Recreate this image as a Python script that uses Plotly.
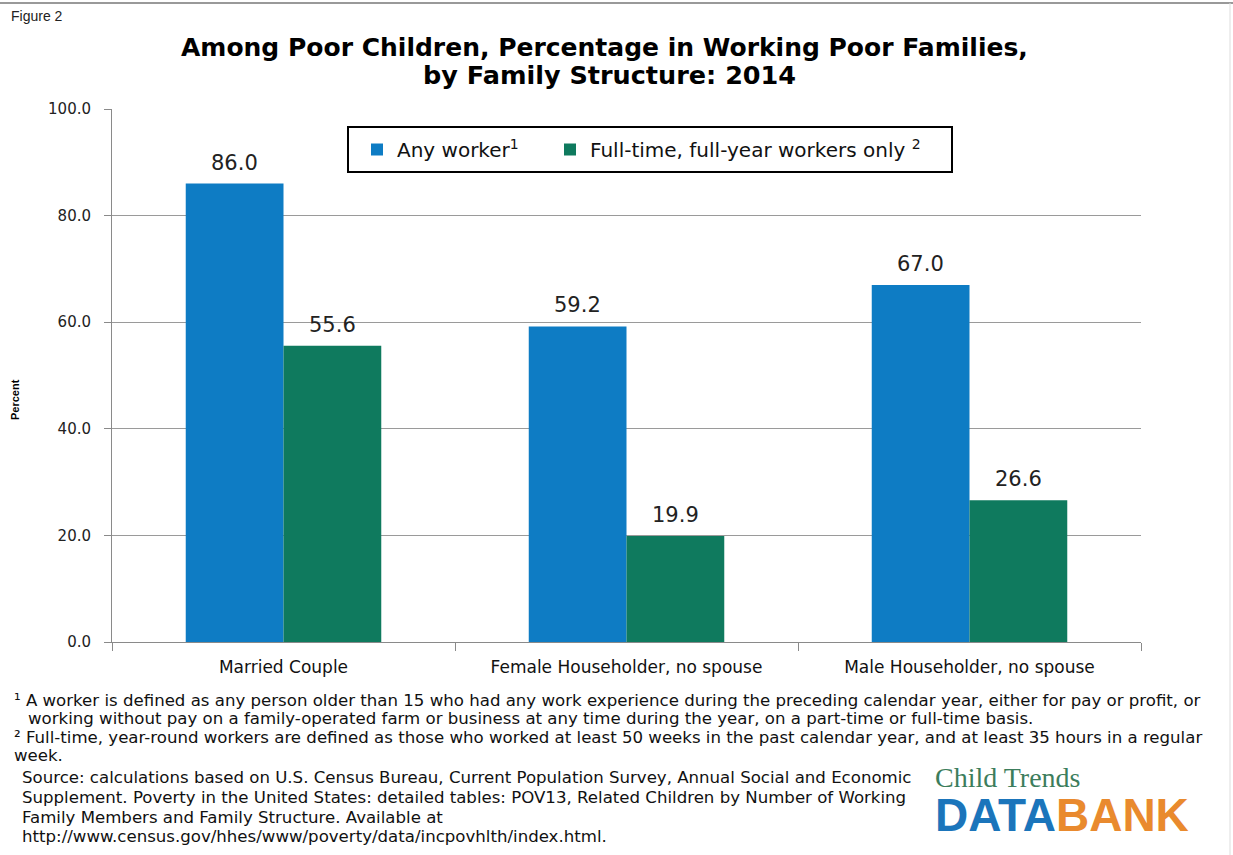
import plotly.graph_objects as go

# Categories and series values (percent of poor children)
categories = ["Married Couple", "Female Householder, no spouse", "Male Householder, no spouse"]
any_worker = [86.0, 59.2, 67.0]
full_time = [55.6, 19.9, 26.6]
series_names = ["Any worker<sup>1</sup>", "Full-time, full-year workers only <sup>2</sup>"]
y_ticks = [0, 20, 40, 60, 80, 100]

BLUE = "#0E7CC4"
GREEN = "#0F7A5E"
FONT = "DejaVu Sans"
BARGAP = 0.43

W, H = 1233, 855
ML, MR, MT, MB = 112, 92, 109, 213
PW, PH = W - ML - MR, H - MT - MB


def px(x):
    return (x - ML) / PW


def py(y):
    return (H - MB - y) / PH


fig = go.Figure()
fig.add_trace(go.Bar(x=categories, y=any_worker, name=series_names[0], legend="legend",
                     marker=dict(color=BLUE, line=dict(width=0))))
fig.add_trace(go.Bar(x=categories, y=full_time, name=series_names[1], legend="legend2",
                     marker=dict(color=GREEN, line=dict(width=0))))

# value labels above each bar (bar centres sit a quarter of the group width off the category)
off = (1 - BARGAP) / 4
for i, (a, f) in enumerate(zip(any_worker, full_time)):
    for v, dx in ((a, -off), (f, off)):
        fig.add_annotation(x=i + dx, y=v, xref="x", yref="y", text=f"{v:.1f}",
                           showarrow=False, yanchor="bottom", yshift=7,
                           font=dict(family=FONT, size=21, color="#222"))

annotations = []
# figure label and title
annotations.append(dict(x=px(9), y=py(16), text="Figure 2", xanchor="left", yanchor="middle",
                        font=dict(family="Liberation Sans", size=14, color="#222")))
annotations.append(dict(x=px(604), y=py(47),
                        text="<b>Among Poor Children, Percentage in Working Poor Families,</b>",
                        xanchor="center", yanchor="middle",
                        font=dict(family=FONT, size=25, color="#000")))
annotations.append(dict(x=px(609), y=py(75), text="<b>by Family Structure: 2014</b>",
                        xanchor="center", yanchor="middle",
                        font=dict(family=FONT, size=25.5, color="#000")))
# y-axis title
annotations.append(dict(x=px(15), y=py(400), text="<b>Percent</b>", textangle=-90,
                        xanchor="center", yanchor="middle",
                        font=dict(family="Liberation Sans", size=11, color="#000")))

notes = [
    (12, 700, "¹ A worker is defined as any person older than 15 who had any work experience during the preceding calendar year, either for pay or profit, or"),
    (26, 718, "working without pay on a family-operated farm or business at any time during the year, on a part-time or full-time basis."),
    (12, 737, "² Full-time, year-round workers are defined as those who worked at least 50 weeks in the past calendar year, and at least 35 hours in a regular"),
    (12, 755, "week."),
    (20, 777, "Source: calculations based on U.S. Census Bureau, Current Population Survey, Annual Social and Economic"),
    (20, 797, "Supplement. Poverty in the United States: detailed tables: POV13, Related Children by Number of Working"),
    (20, 817, "Family Members and Family Structure. Available at"),
    (20, 837, "http://www.census.gov/hhes/www/poverty/data/incpovhlth/index.html."),
]
for x0, y0, t in notes:
    annotations.append(dict(x=px(x0), y=py(y0), text=t, xanchor="left", yanchor="middle",
                            font=dict(family=FONT, size=16.6, color="#111")))

# logo
annotations.append(dict(x=px(933), y=py(777), text="Child Trends", xanchor="left", yanchor="middle",
                        font=dict(family="Liberation Serif", size=28, color="#3C7D5C")))
annotations.append(dict(x=px(933), y=py(815),
                        text="<b><span style='color:#1B75BB'>DATA</span><span style='color:#E98A2E'>BANK</span></b>",
                        xanchor="left", yanchor="middle",
                        font=dict(family="Liberation Sans", size=46)))

for a in annotations:
    a.update(xref="paper", yref="paper", showarrow=False)
    fig.add_annotation(**a)

# legend frame and outer frame lines
fig.add_shape(type="rect", xref="paper", yref="paper", x0=px(348), x1=px(952), y0=py(172), y1=py(127),
              line=dict(color="#000", width=2), fillcolor="white", layer="above")
fig.add_shape(type="line", xref="paper", yref="paper", x0=px(0), x1=px(1233), y0=py(3), y1=py(3),
              line=dict(color="#999", width=2))
fig.add_shape(type="line", xref="paper", yref="paper", x0=px(1230), x1=px(1230), y0=py(3), y1=py(855),
              line=dict(color="#ddd", width=1))

legend_style = dict(orientation="h", yanchor="middle", xanchor="left", y=py(149.5),
                    bgcolor="rgba(0,0,0,0)", borderwidth=0, itemwidth=30,
                    font=dict(family=FONT, size=20, color="#111"))

fig.update_layout(
    width=W, height=H,
    margin=dict(l=ML, r=MR, t=MT, b=MB),
    paper_bgcolor="white", plot_bgcolor="white",
    barmode="group", bargap=BARGAP, bargroupgap=0,
    showlegend=True,
    legend=dict(x=px(357), **legend_style),
    legend2=dict(x=px(550), **legend_style),
    xaxis=dict(showgrid=False, showline=True, linecolor="#8a8a8a", linewidth=1,
               ticks="outside", tickson="boundaries", ticklen=8, tickcolor="#8a8a8a",
               tickfont=dict(family=FONT, size=17, color="#111"), ticklabelstandoff=10),
    yaxis=dict(range=[0, 100], tickvals=y_ticks, tickformat=".1f",
               showgrid=True, gridcolor="#9a9a9a", gridwidth=1,
               showline=True, linecolor="#8a8a8a", linewidth=1,
               ticks="outside", ticklen=7, tickcolor="#8a8a8a",
               tickfont=dict(family=FONT, size=15, color="#222"), ticklabelstandoff=10,
               zeroline=False),
)

fig.write_html("out.html")
